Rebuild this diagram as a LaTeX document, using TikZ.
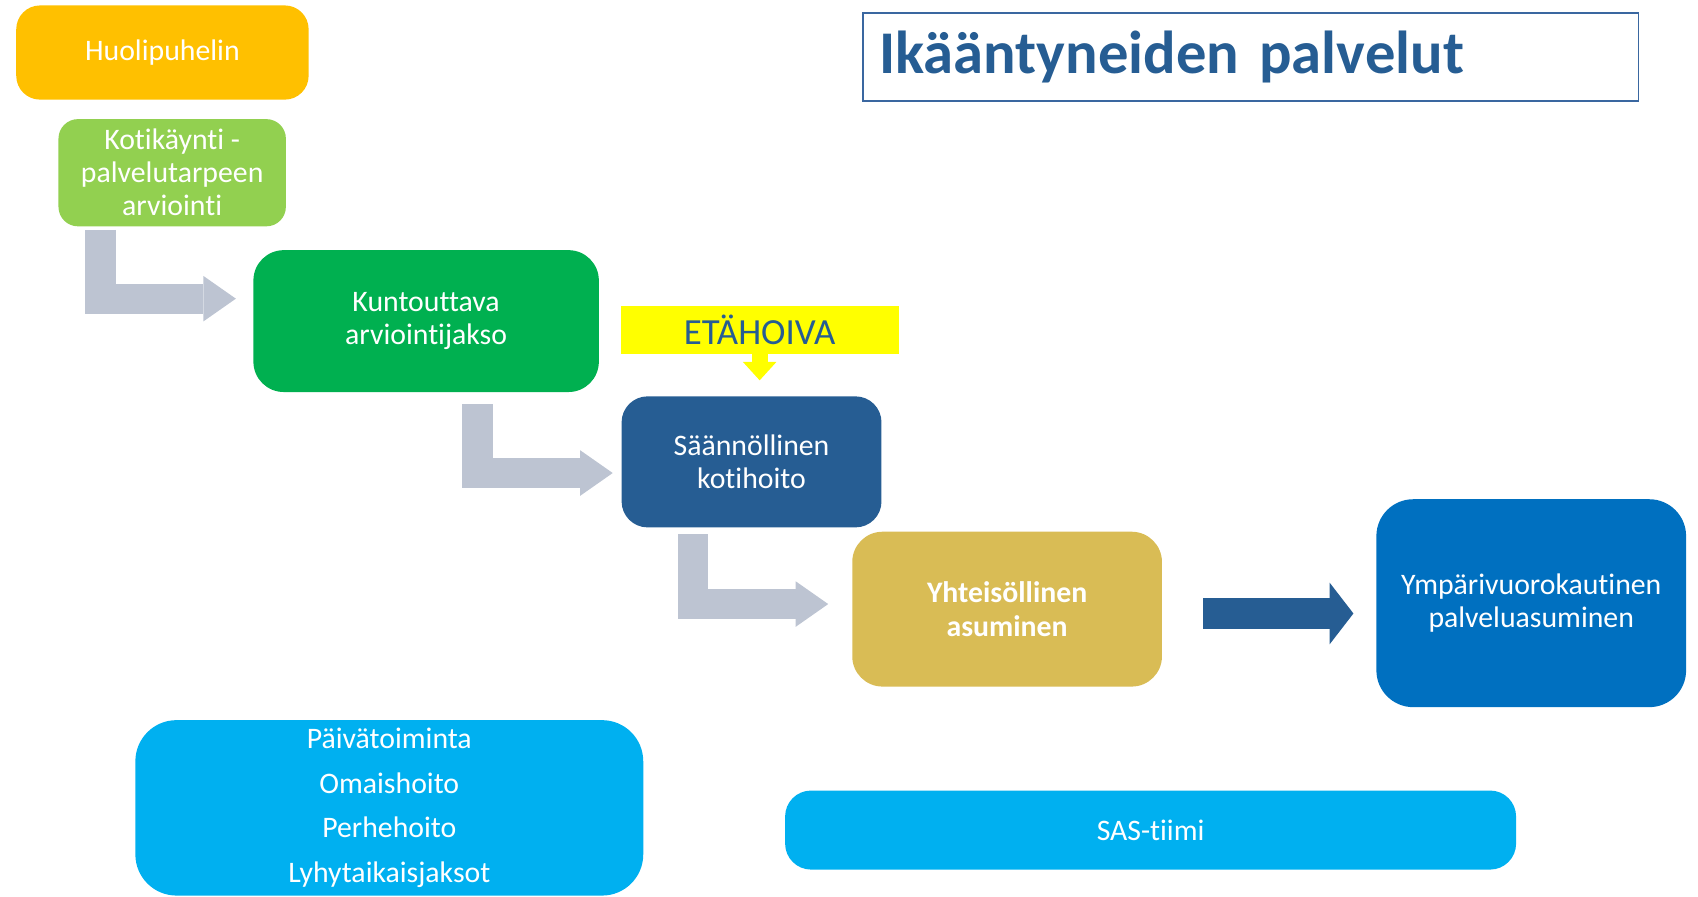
\documentclass[tikz,border=0pt]{standalone}
\usepackage{fontspec}
\setmainfont{Carlito}[RawFeature={-liga;-clig;-dlig}]
\usetikzlibrary{arrows.meta,calc}
\definecolor{cOrange}{HTML}{FFC000}
\definecolor{cLightGreen}{HTML}{92D050}
\definecolor{cGreen}{HTML}{00B050}
\definecolor{cYellow}{HTML}{FFFF00}
\definecolor{cDark}{HTML}{265D93}
\definecolor{cGold}{HTML}{D9BC55}
\definecolor{cBlue}{HTML}{0070C0}
\definecolor{cSky}{HTML}{00B0F0}
\definecolor{cGrey}{HTML}{BDC4D2}
\definecolor{cBorder}{HTML}{3A67A0}
\begin{document}
\begin{tikzpicture}[x=1pt,y=-1pt,
  box/.style={rectangle, rounded corners=#1, text=white, align=center, inner sep=0pt,
    font=\fontsize{27.5}{30.5}\selectfont},
  box/.default=25pt,
  greyarrow/.style={draw=cGrey, line width=28pt, line join=miter,
    -{Triangle[width=42pt,length=30pt,line width=0pt]}},
  darkarrow/.style={draw=cDark, line width=28pt,
    -{Triangle[width=57pt,length=22pt,line width=0pt]}},
  yelarrow/.style={draw=cYellow, line width=15pt,
    -{Triangle[width=31pt,length=17pt,line width=0pt]}}]
\useasboundingbox (0,0) rectangle (1568,828);

\node[box=22pt, fill=cOrange, minimum width=270pt, minimum height=87pt] (huoli) at (150,48.5) {Huolipuhelin};
\node[box=18pt, fill=cLightGreen, minimum width=210pt, minimum height=99pt] (kot) at (159,159.5) {Kotikäynti -\\palvelutarpeen\\arviointi};
\node[box=28pt, fill=cGreen, minimum width=319pt, minimum height=131pt] (kunt) at (393.5,296.5) {Kuntouttava\\arviointijakso};
\node[rectangle, fill=cYellow, text=cDark, inner sep=0pt, minimum width=257pt, minimum height=44pt,
  font=\fontsize{34}{36}\selectfont] (eta) at (701.5,305) {ETÄHOIVA};
\node[box=24pt, fill=cDark, minimum width=240pt, minimum height=121pt] (saan) at (694,426.5) {Säännöllinen\\kotihoito};
\node[box=28pt, fill=cGold, minimum width=286pt, minimum height=143pt, font=\bfseries\fontsize{27.5}{30.5}\selectfont] (yht) at (930,562.5) {Yhteisöllinen\\asuminen};
\node[box=34pt, fill=cBlue, minimum width=286pt, minimum height=192pt] (ymp) at (1414,557) {Ympärivuorokautinen\\palveluasuminen};
\node[box=38pt, fill=cSky, minimum width=469pt, minimum height=162pt, font=\fontsize{27.5}{41}\selectfont] (omais) at (359.5,746) {Päivätoiminta\\Omaishoito\\Perhehoito\\Lyhytaikaisjaksot};
\node[box=24pt, fill=cSky, minimum width=675pt, minimum height=73pt] (sas) at (1062.5,766.5) {SAS-tiimi};
\node[rectangle, draw=cBorder, line width=1.5pt, text=cDark, minimum width=716pt, minimum height=81pt,
  text width=686pt, inner xsep=15pt, inner ysep=0pt, align=left,
  font=\bfseries\fontsize{56}{60}\selectfont] (title) at (1155,52.5) {Ikääntyneiden palvelut};

\draw[greyarrow] ($(kot.south west)+(39,3)$) |- ($(kunt.north west)+(-16,45)$);
\draw[greyarrow] ($(kunt.south west)+(207,11)$) |- ($(saan.north west)+(-8,71)$);
\draw[greyarrow] ($(saan.south west)+(66,6)$) |- ($(yht.north west)+(-22,67)$);
\draw[darkarrow] ($(yht.east)+(38,4)$) -- ($(ymp.west)+(-21,9.5)$);
\draw[yelarrow] ([yshift=1pt]eta.south) -- ($(eta.south)+(0,24)$);
\end{tikzpicture}
\end{document}
